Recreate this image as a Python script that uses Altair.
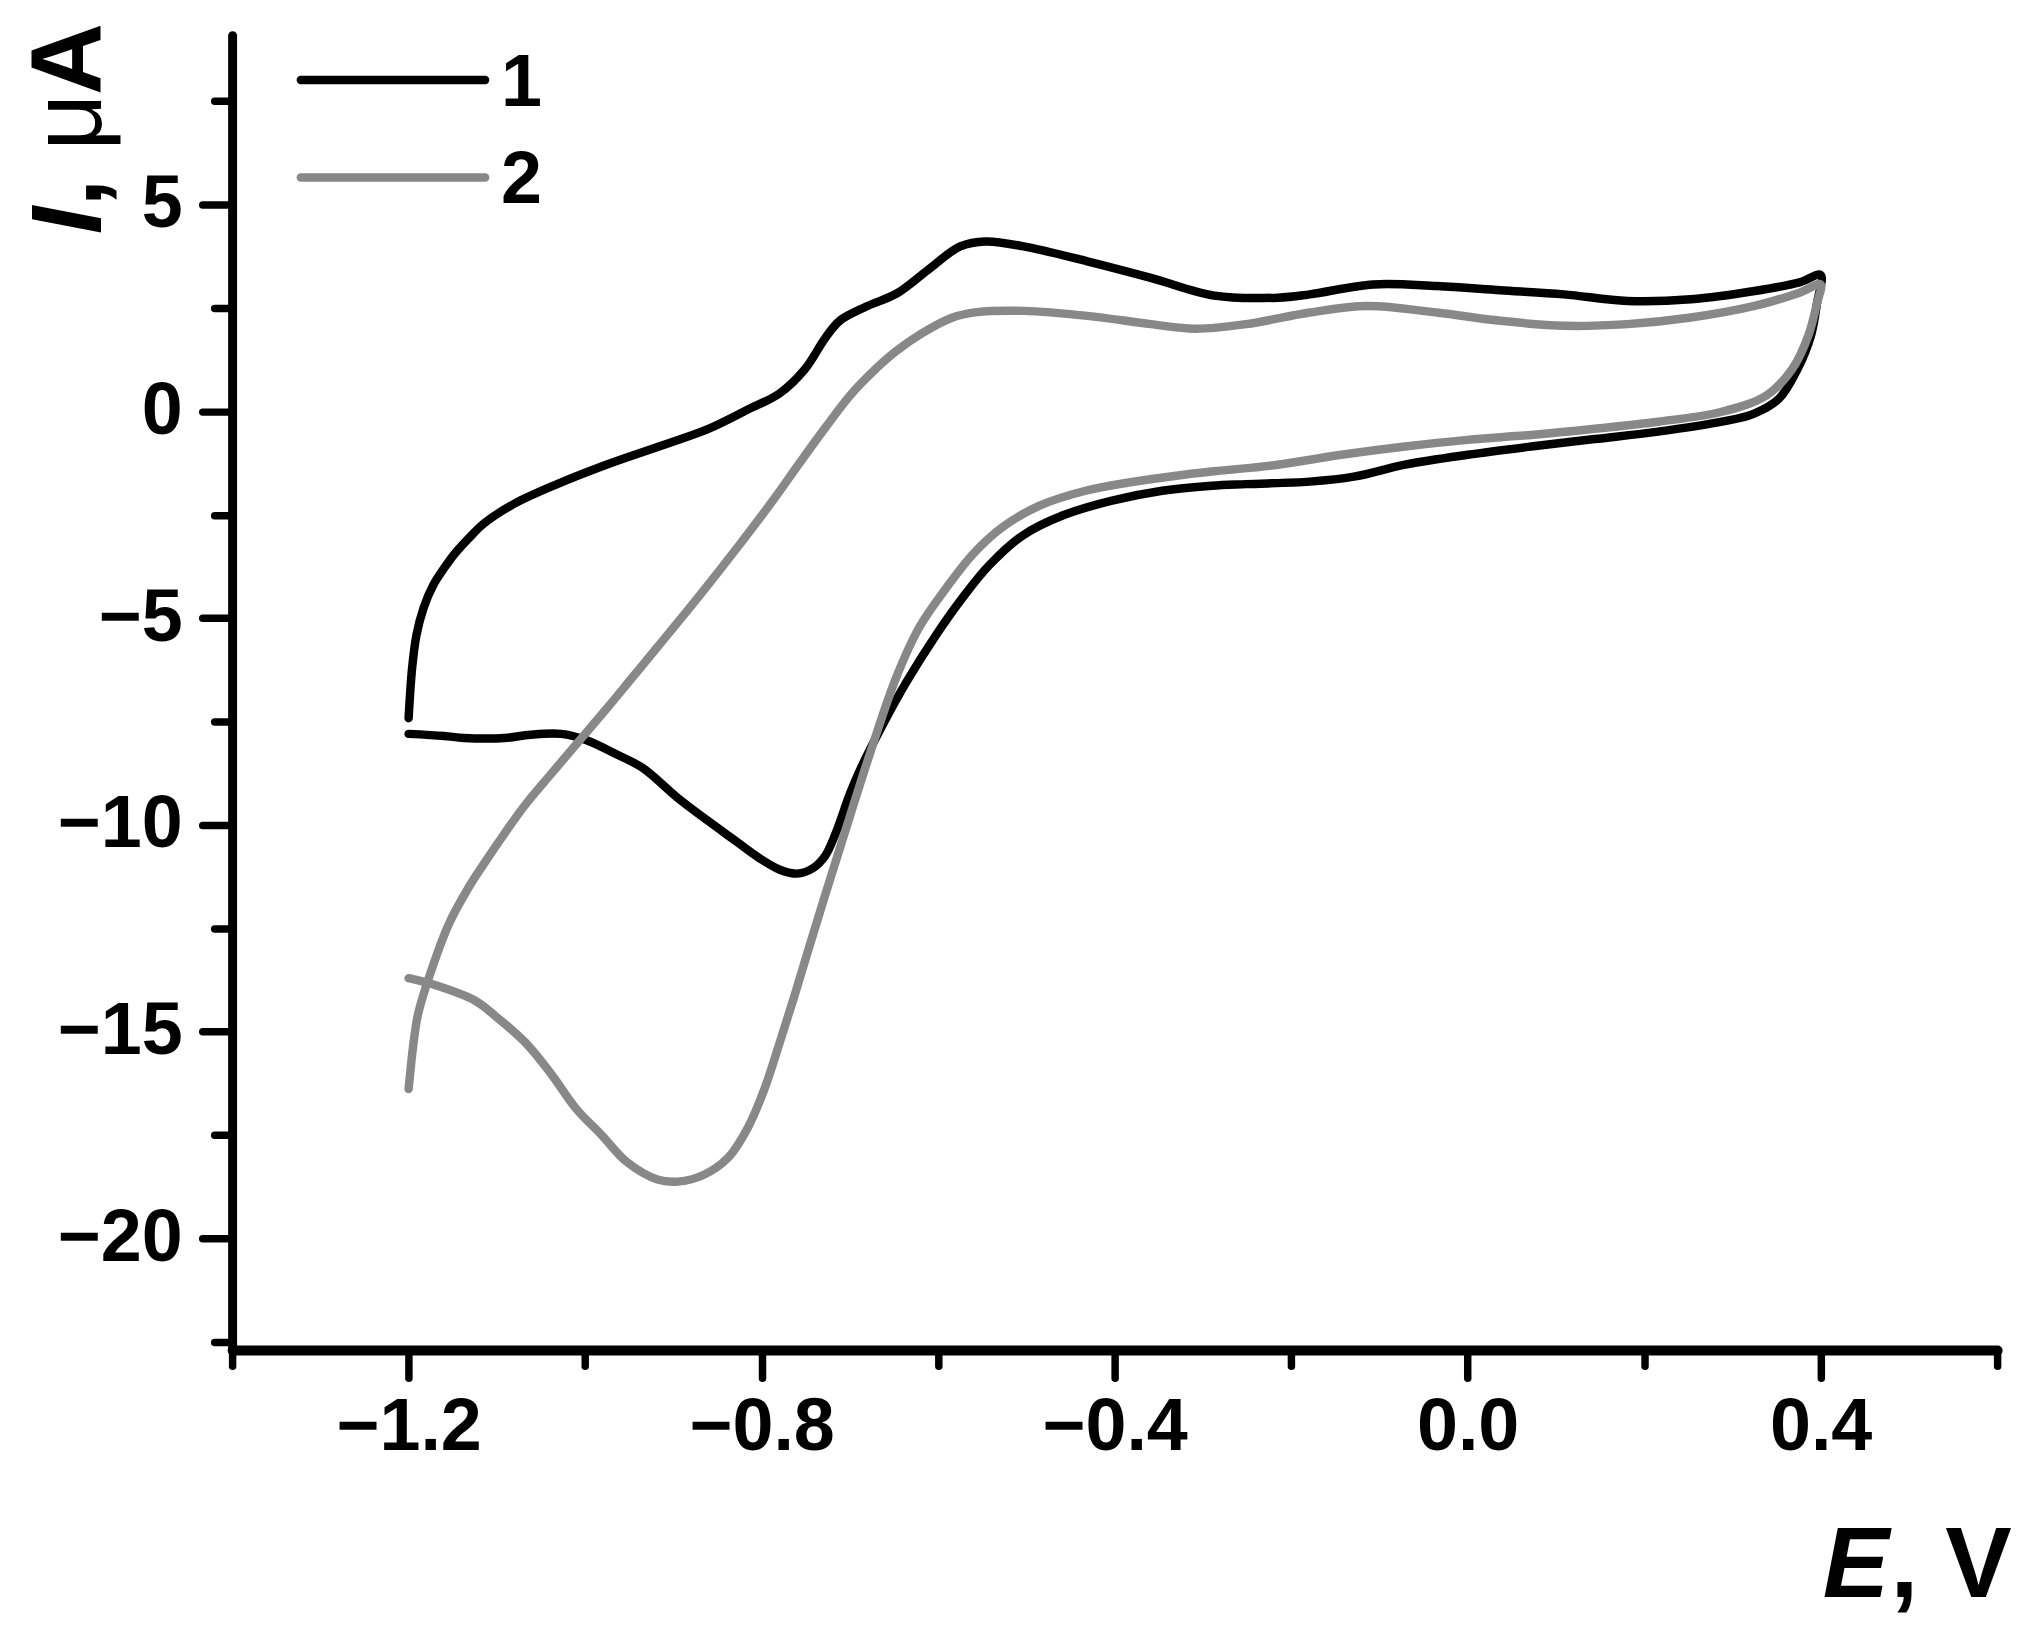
import altair as alt
import pandas as pd

# ---- curve 1 (black): E in V, I in uA, in scan order ----
E1 = [-1.200, -1.160, -1.137, -1.091, -1.062, -1.027, -0.999, -0.964, -0.935, -0.895,
      -0.861, -0.832, -0.803, -0.780, -0.760, -0.742, -0.728, -0.716, -0.700, -0.688,
      -0.662, -0.636, -0.602, -0.572, -0.542, -0.504, -0.459, -0.403, -0.346, -0.290,
      -0.251, -0.179, -0.129, -0.071, 0.000, 0.072, 0.144, 0.216, 0.288, 0.324,
      0.353, 0.374, 0.389, 0.396, 0.400,
      0.376, 0.325, 0.253, 0.181, 0.109, 0.037, -0.035, -0.107, -0.179, -0.215,
      -0.287, -0.359, -0.431, -0.503, -0.546, -0.575, -0.611, -0.647, -0.682, -0.711,
      -0.728, -0.751, -0.780, -0.815, -0.861, -0.918, -0.976, -1.033, -1.079, -1.114,
      -1.131, -1.148, -1.160, -1.172, -1.183, -1.191, -1.196, -1.200]
I1 = [-7.80, -7.85, -7.90, -7.90, -7.82, -7.80, -7.95, -8.30, -8.62, -9.35,
      -9.90, -10.35, -10.80, -11.08, -11.18, -11.05, -10.75, -10.20, -9.25, -8.65,
      -7.55, -6.55, -5.40, -4.50, -3.72, -3.00, -2.52, -2.16, -1.92, -1.80,
      -1.76, -1.70, -1.58, -1.29, -1.05, -0.85, -0.67, -0.49, -0.25, -0.06,
      0.31, 1.03, 1.83, 2.63, 3.30,
      3.12, 2.91, 2.71, 2.67, 2.83, 2.93, 3.03, 3.07, 2.83, 2.75,
      2.80, 3.23, 3.63, 3.99, 4.11, 3.99, 3.43, 2.85, 2.53, 2.20,
      1.77, 1.02, 0.43, 0.05, -0.43, -0.86, -1.29, -1.77, -2.22, -2.70,
      -3.05, -3.45, -3.80, -4.20, -4.75, -5.40, -6.20, -7.42]

# ---- curve 2 (grey) ----
E2 = [-1.200, -1.171, -1.125, -1.102, -1.068, -1.039, -1.010, -0.981, -0.953, -0.918,
      -0.895, -0.866, -0.838, -0.815, -0.797, -0.780, -0.763, -0.746, -0.728, -0.707,
      -0.677, -0.647, -0.621, -0.590, -0.560, -0.527, -0.485, -0.433, -0.384, -0.328,
      -0.287, -0.215, -0.143, -0.071, 0.000, 0.072, 0.144, 0.216, 0.288, 0.339,
      0.368, 0.386, 0.396, 0.400,
      0.376, 0.325, 0.253, 0.181, 0.109, 0.037, -0.035, -0.114, -0.179, -0.251,
      -0.309, -0.359, -0.431, -0.503, -0.556, -0.585, -0.619, -0.648, -0.671, -0.700,
      -0.728, -0.757, -0.786, -0.826, -0.872, -0.918, -0.947, -0.976, -1.010, -1.039,
      -1.068, -1.091, -1.114, -1.131, -1.154, -1.171, -1.189, -1.194, -1.200]
I2 = [-13.71, -13.87, -14.25, -14.62, -15.26, -16.01, -16.87, -17.51, -18.15, -18.58,
      -18.63, -18.47, -18.05, -17.30, -16.40, -15.30, -14.15, -12.95, -11.70, -10.27,
      -8.26, -6.41, -5.21, -4.25, -3.44, -2.80, -2.28, -1.92, -1.72, -1.55,
      -1.45, -1.29, -1.05, -0.85, -0.69, -0.57, -0.42, -0.25, -0.01, 0.39,
      1.03, 1.83, 2.63, 3.07,
      2.87, 2.55, 2.27, 2.11, 2.07, 2.19, 2.39, 2.55, 2.39, 2.11,
      2.00, 2.11, 2.31, 2.43, 2.40, 2.26, 1.88, 1.45, 1.02, 0.38,
      -0.40, -1.25, -2.12, -3.25, -4.50, -5.70, -6.45, -7.20, -8.05, -8.78,
      -9.52, -10.20, -10.92, -11.48, -12.38, -13.32, -14.55, -15.20, -16.39]

CURVES = ["1", "2"]
COLORS = ["#000000", "#888888"]
X_TICKS = [-1.4, -1.2, -1.0, -0.8, -0.6, -0.4, -0.2, 0.0, 0.2, 0.4, 0.6]
Y_TICKS = [-22.5, -20, -17.5, -15, -12.5, -10, -7.5, -5, -2.5, 0, 2.5, 5, 7.5]
X_DOMAIN = [-1.4, 0.6]
Y_DOMAIN = [-22.7, 9.1]

rows = []
for name, E, I in ((CURVES[0], E1, I1), (CURVES[1], E2, I2)):
    for k, (e, i) in enumerate(zip(E, I)):
        rows.append({"curve": name, "E": e, "I": i, "idx": k})
df = pd.DataFrame(rows)

W, H = 1772, 1320
FONT = "Liberation Sans"
LW = 8.5

x_axis = alt.Axis(
    values=X_TICKS, title=None, orient="bottom", grid=False,
    labelExpr="abs(round(datum.value*10)) % 4 == 0 ? format(datum.value, '.1f') : ''",
    labelFont=FONT, labelFontSize=74, labelFontWeight="bold", labelColor="black",
    labelPadding=14, labelFlush=False, labelOverlap=False,
    domainColor="black", domainWidth=10, domainCap="round",
    tickColor="black", tickWidth=7.5, tickCap="round",
    tickSize={"condition": {"test": "abs(round(datum.value*10)) % 4 == 0", "value": 28}, "value": 16},
)
y_axis = alt.Axis(
    values=Y_TICKS, title=None, orient="left", grid=False,
    labelExpr="abs(round(datum.value*2)) % 10 == 0 ? format(datum.value, 'd') : ''",
    labelFont=FONT, labelFontSize=74, labelFontWeight="bold", labelColor="black",
    labelPadding=20, labelFlush=False, labelOverlap=False,
    domainColor="black", domainWidth=9, domainCap="round",
    tickColor="black", tickWidth=7.5, tickCap="round",
    tickSize={"condition": {"test": "abs(round(datum.value*2)) % 10 == 0", "value": 30}, "value": 18},
)

lines = alt.Chart(df).mark_line(strokeWidth=LW, strokeJoin="round", strokeCap="round",
                                interpolate="catmull-rom").encode(
    x=alt.X("E:Q", scale=alt.Scale(domain=X_DOMAIN, nice=False, zero=False), axis=x_axis),
    y=alt.Y("I:Q", scale=alt.Scale(domain=Y_DOMAIN, nice=False, zero=False), axis=y_axis),
    color=alt.Color("curve:N", scale=alt.Scale(domain=CURVES, range=COLORS), legend=None),
    order="idx:Q",
)

one = pd.DataFrame({"k": [0]})


def label(text, x, y, size, style="normal", weight="bold", angle=0):
    return alt.Chart(one).mark_text(
        text=text, font=FONT, fontSize=size, fontStyle=style, fontWeight=weight,
        align="left", baseline="alphabetic", angle=angle, color="black",
    ).encode(x=alt.value(x), y=alt.value(y))


# legend
leg = []
for k, (name, col) in enumerate(zip(CURVES, COLORS)):
    yy = 45 + 98 * k
    leg.append(alt.Chart(one).mark_rule(color=col, strokeWidth=LW, strokeCap="round").encode(
        x=alt.value(69), x2=alt.value(254), y=alt.value(yy)))
    leg.append(label(name, 270, yy + 26, 74))

# axis titles
TX = -132
titles = [
    label("I", TX, 200, 100, style="italic", angle=270),
    label(",", TX, 172, 100, angle=270),
    label("\u03bc", TX, 116, 100, weight="normal", angle=270),
    label("A", TX, 60, 100, angle=270),
    label("E", 1597, 1568, 100, style="italic"),
    label(",", 1665, 1568, 100),
    label("V", 1720, 1568, 100),
]

chart = alt.layer(lines, *leg, *titles).properties(
    width=W, height=H,
    autosize=alt.AutoSizeParams(type="none"),
    padding={"left": 225, "top": 24, "right": 33, "bottom": 285},
).configure_view(stroke=None)

chart.save("out.html", embed_options={"renderer": "svg", "actions": False})
